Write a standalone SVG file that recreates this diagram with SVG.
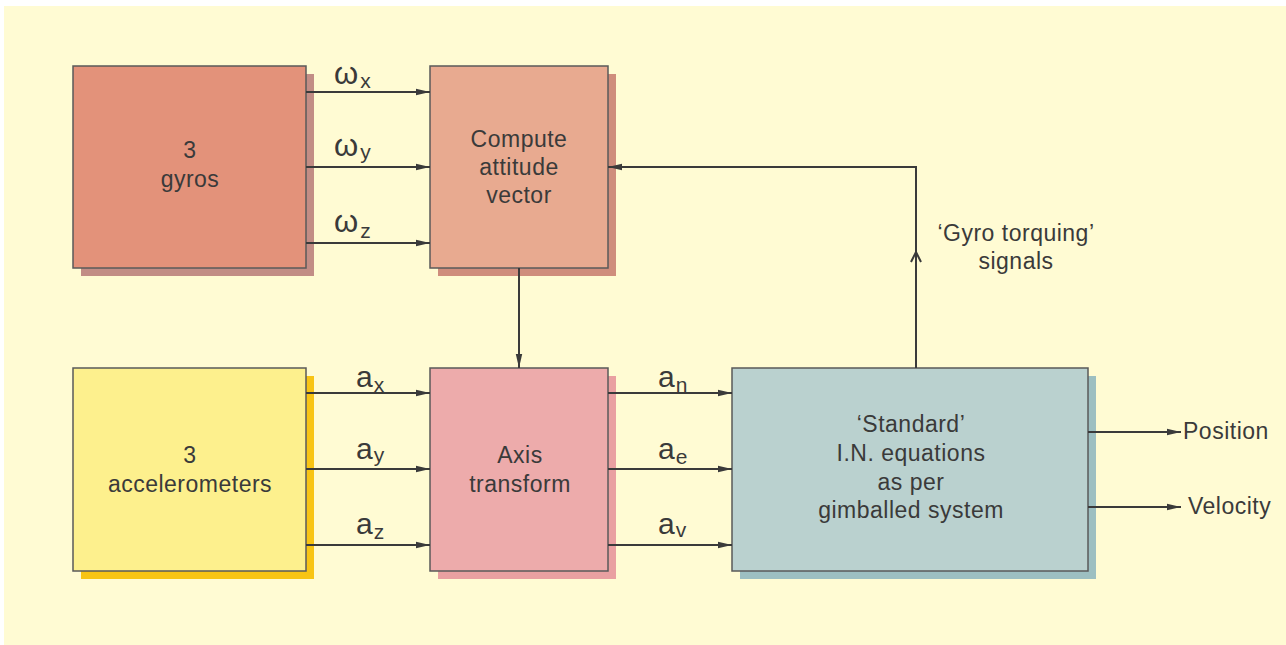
<svg xmlns="http://www.w3.org/2000/svg" width="1286" height="645" viewBox="0 0 1286 645">
<defs>
<marker id="ah" markerUnits="userSpaceOnUse" markerWidth="14" markerHeight="8" viewBox="0 0 14 8" refX="14" refY="4" orient="auto">
<path d="M0,0.8 L14,4 L0,7.2 Z" fill="#3a3a3a"/>
</marker>
</defs>
<style>
.box{stroke:#5a5a5a;stroke-width:1.5}
.ln{stroke:#3a3a3a;stroke-width:2;fill:none}
.t{font-family:"Liberation Sans",Arial,sans-serif;font-size:23px;fill:#3a3a3a;letter-spacing:0.5px}
.c{text-anchor:middle}
.big{font-family:"Liberation Sans",Arial,sans-serif;fill:#3a3a3a}
</style>
<rect x="4" y="6" width="1282" height="639" fill="#FFFBD3"/>

<g id="gyros">
<rect x="81" y="74" width="233" height="202" fill="#C28D85"/>
<rect class="box" x="73" y="66" width="233" height="202" fill="#E3927A"/>
<text class="t c" x="190" y="158">3</text>
<text class="t c" x="190" y="187">gyros</text>
</g>

<g id="compute">
<rect x="438" y="74" width="178" height="202" fill="#CF8D7C"/>
<rect class="box" x="430" y="66" width="178" height="202" fill="#E8AA90"/>
<text class="t c" x="519" y="147">Compute</text>
<text class="t c" x="519" y="175">attitude</text>
<text class="t c" x="519" y="203">vector</text>
</g>

<g id="accelerometers">
<rect x="81" y="376" width="233" height="203" fill="#F8C414"/>
<rect class="box" x="73" y="368" width="233" height="203" fill="#FDF08D"/>
<text class="t c" x="190" y="463">3</text>
<text class="t c" x="190" y="492">accelerometers</text>
</g>

<g id="axis">
<rect x="438" y="376" width="178" height="203" fill="#E9A0A1"/>
<rect class="box" x="430" y="368" width="178" height="203" fill="#EDABAB"/>
<text class="t c" x="520" y="463">Axis</text>
<text class="t c" x="520" y="492">transform</text>
</g>

<g id="standard">
<rect x="740" y="376" width="356" height="203" fill="#9DBFC1"/>
<rect class="box" x="732" y="368" width="356" height="203" fill="#BAD1CF"/>
<text class="t c" x="911" y="432">‘Standard’</text>
<text class="t c" x="911" y="461">I.N. equations</text>
<text class="t c" x="911" y="490">as per</text>
<text class="t c" x="911" y="518">gimballed system</text>
</g>

<g id="connectors">
<line class="ln" x1="306" y1="92" x2="430" y2="92" marker-end="url(#ah)"/>
<line class="ln" x1="306" y1="167" x2="430" y2="167" marker-end="url(#ah)"/>
<line class="ln" x1="306" y1="243" x2="430" y2="243" marker-end="url(#ah)"/>
<line class="ln" x1="519" y1="268" x2="519" y2="368" marker-end="url(#ah)"/>
<line class="ln" x1="306" y1="393" x2="430" y2="393" marker-end="url(#ah)"/>
<line class="ln" x1="306" y1="469" x2="430" y2="469" marker-end="url(#ah)"/>
<line class="ln" x1="306" y1="545" x2="430" y2="545" marker-end="url(#ah)"/>
<line class="ln" x1="608" y1="393" x2="732" y2="393" marker-end="url(#ah)"/>
<line class="ln" x1="608" y1="469" x2="732" y2="469" marker-end="url(#ah)"/>
<line class="ln" x1="608" y1="545" x2="732" y2="545" marker-end="url(#ah)"/>
<polyline class="ln" points="916,368 916,167 608,167" marker-end="url(#ah)"/>
<polyline class="ln" points="911,262 916,252 921,262"/>
<line class="ln" x1="1088" y1="432" x2="1181" y2="432" marker-end="url(#ah)"/>
<line class="ln" x1="1088" y1="507" x2="1181" y2="507" marker-end="url(#ah)"/>

<text class="big" x="334" y="84"><tspan font-size="31">ω</tspan><tspan font-size="21" dx="2" dy="4">x</tspan></text>
<text class="big" x="334" y="156"><tspan font-size="31">ω</tspan><tspan font-size="21" dx="2" dy="3">y</tspan></text>
<text class="big" x="334" y="232"><tspan font-size="31">ω</tspan><tspan font-size="21" dx="2" dy="6">z</tspan></text>

<text class="big" x="356" y="387"><tspan font-size="30">a</tspan><tspan font-size="21" dx="1" dy="5">x</tspan></text>
<text class="big" x="356" y="459"><tspan font-size="30">a</tspan><tspan font-size="21" dx="1" dy="3">y</tspan></text>
<text class="big" x="356" y="534"><tspan font-size="30">a</tspan><tspan font-size="21" dx="1" dy="5">z</tspan></text>

<text class="big" x="658" y="387"><tspan font-size="30">a</tspan><tspan font-size="21" dx="1" dy="5">n</tspan></text>
<text class="big" x="658" y="459"><tspan font-size="30">a</tspan><tspan font-size="21" dx="1" dy="5">e</tspan></text>
<text class="big" x="658" y="534"><tspan font-size="30">a</tspan><tspan font-size="21" dx="1" dy="3">v</tspan></text>

<text class="t c" x="1016" y="241">‘Gyro torquing’</text>
<text class="t c" x="1016" y="269">signals</text>
<text class="t" x="1183" y="439">Position</text>
<text class="t" x="1188" y="514">Velocity</text>
</g>
</svg>
